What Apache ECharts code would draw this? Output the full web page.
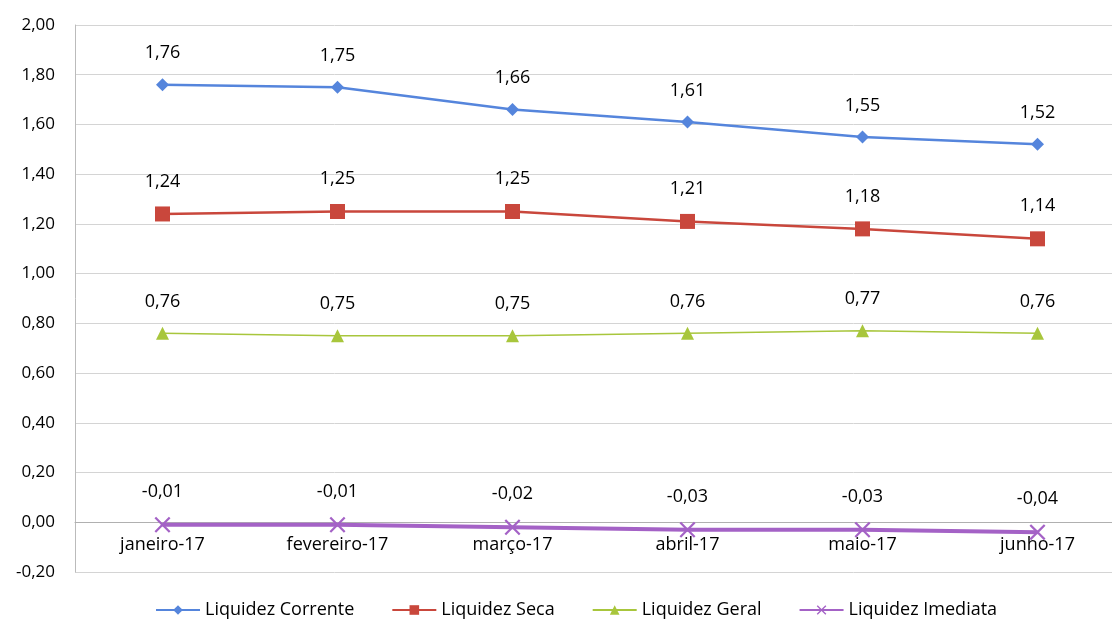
<!DOCTYPE html>
<html><head><meta charset="utf-8">
<script src="https://cdn.jsdelivr.net/npm/echarts@6/dist/echarts.min.js"></script>
<style>html,body{margin:0;padding:0;background:#fff}#c{width:1112px;height:621px}</style>
</head><body><div id="c"></div>
<script>
const categories = ['janeiro-17','fevereiro-17','março-17','abril-17','maio-17','junho-17'];
const corrente = [1.76,1.75,1.66,1.61,1.55,1.52];
const seca = [1.24,1.25,1.25,1.21,1.18,1.14];
const geral = [0.76,0.75,0.75,0.76,0.77,0.76];
const imediata = [-0.01,-0.01,-0.02,-0.03,-0.03,-0.04];
const names = ['Liquidez Corrente','Liquidez Seca','Liquidez Geral','Liquidez Imediata'];

const fmt = v => Number(v).toFixed(2).replace('.', ',');
const FONT = '"Open Sans", Lato, sans-serif';
const xPath = 'path://M0,1L1,0L5,4L9,0L10,1L6,5L10,9L9,10L5,6L1,10L0,9L4,5Z';

function mk(name, data, color, symbol, size, width) {
  return {
    name, type: 'line', data, symbol, symbolSize: size,
    lineStyle: {color, width}, itemStyle: {color},
    label: {show: true, position: 'top', distance: 16, formatter: p => fmt(p.value),
      color: '#000', fontSize: 18, fontFamily: FONT},
    animation: false
  };
}

const chart = echarts.init(document.getElementById('c'));
chart.setOption({
  animation: false,
  grid: {left: 75, width: 1050, top: 25, bottom: 49, outerBoundsMode: 'none', containLabel: false},
  legend: {
    top: 596, left: 150, itemGap: 37, itemWidth: 44, itemHeight: 12,
    textStyle: {fontSize: 18, color: '#000', fontFamily: FONT},
    data: names
  },
  xAxis: {
    type: 'category', data: categories, boundaryGap: true,
    position: 'bottom', offset: -50,
    axisLine: {onZero: false, lineStyle: {color: '#b0b0b0'}},
    axisTick: {show: false},
    axisLabel: {color: '#000', fontSize: 18, fontFamily: FONT, margin: 14}
  },
  yAxis: {
    type: 'value', min: -0.2, max: 2.0, interval: 0.2,
    axisLine: {show: true, lineStyle: {color: '#bbb'}},
    axisTick: {show: false},
    splitLine: {lineStyle: {color: '#d4d4d4'}},
    axisLabel: {color: '#000', fontSize: 17, fontFamily: FONT, margin: 20, formatter: v => fmt(v)}
  },
  series: [
    mk(names[0], corrente, '#5585dc', 'diamond', 13, 2.5),
    mk(names[1], seca, '#c9473c', 'rect', 15, 2.5),
    mk(names[2], geral, '#a8c63c', 'triangle', 13, 1.5),
    mk(names[3], imediata, '#a462c6', xPath, 16, 4)
  ]
});
</script></body></html>
